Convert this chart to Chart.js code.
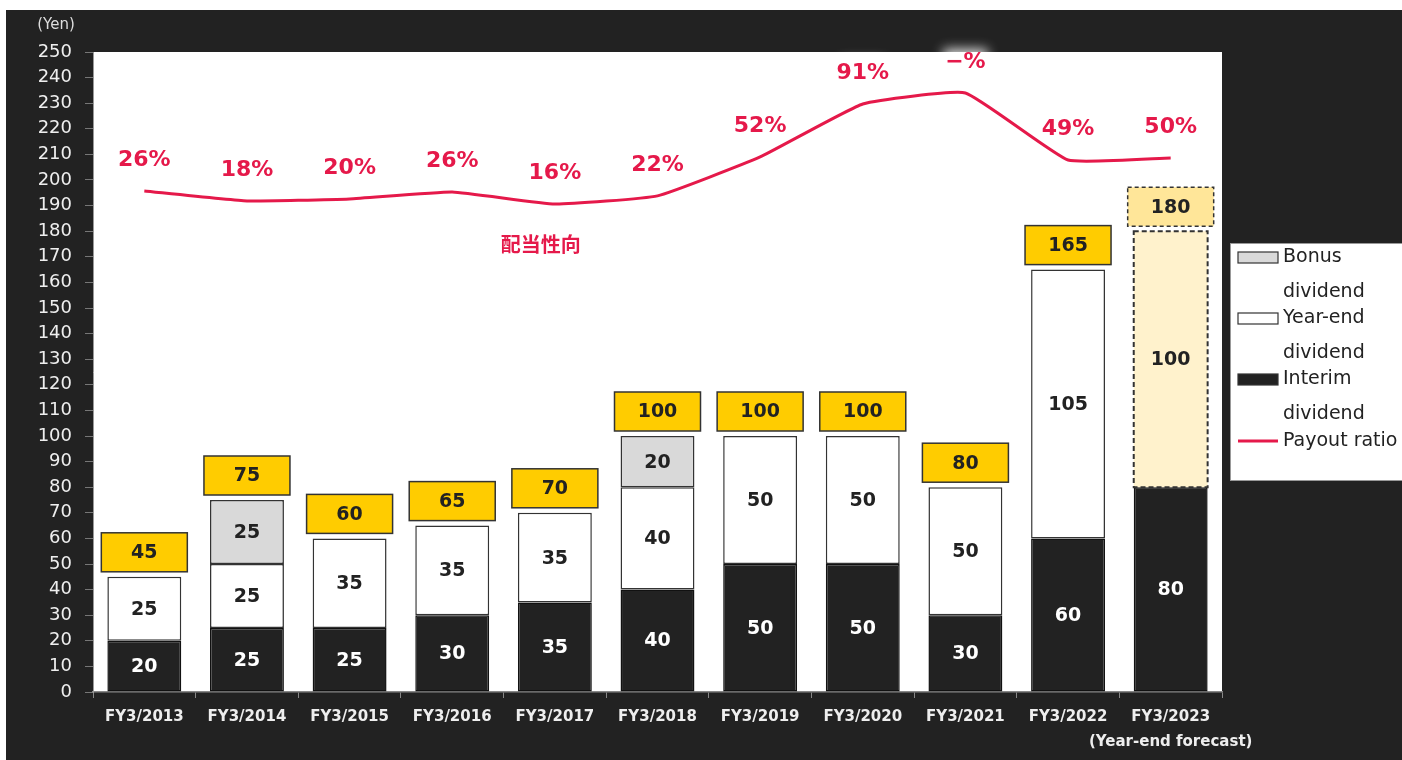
<!DOCTYPE html>
<html lang="en">
<head>
<meta charset="utf-8">
<title>Dividends per share</title>
<script src="https://cdn.jsdelivr.net/npm/chart.js@4.4.1/dist/chart.umd.min.js"></script>
<style>
  html, body { margin: 0; padding: 0; background: #fff; }
  #frame { position: absolute; left: 6px; top: 10px; width: 1396px; height: 750px; background: #222; overflow: hidden; }
  #chart { display: block; }
</style>
</head>
<body>
<div id="frame"><canvas id="chart" width="1396" height="750"></canvas></div>
<script>
// Datos del gráfico
const categories = ['FY3/2013', 'FY3/2014', 'FY3/2015', 'FY3/2016', 'FY3/2017', 'FY3/2018',
    'FY3/2019', 'FY3/2020', 'FY3/2021', 'FY3/2022', ['FY3/2023', '(Year-end forecast)']];
const interimDividend = [20, 25, 25, 30, 35, 40, 50, 50, 30, 60, 80];
const yearEndDividend = [25, 25, 35, 35, 35, 40, 50, 50, 50, 105, 100];
const bonusDividend = [null, 25, null, null, null, 20, null, null, null, null, null];
const totalDividend = [45, 75, 60, 65, 70, 100, 100, 100, 80, 165, 180];
// payout ratio line, drawn at its level on the yen scale
const payoutLevel = [195.7, 191.8, 192.6, 195.3, 190.6, 193.8, 209, 229.7, 234, 207.8, 208.6];
const payoutLabels = ['26%', '18%', '20%', '26%', '16%', '22%', '52%', '91%', '−%', '49%', '50%'];
const yTicks = { min: 0, max: 250, step: 10 };

const FORECAST = 10; // FY3/2023 es pronóstico
const RED = '#E5194A';
const FONT = '"DejaVu Sans", Verdana, sans-serif';

// Fondo blanco del área de datos + etiqueta (Yen)
const plotBackground = {
    id: 'plotBackground',
    beforeDraw(chart) {
        const { ctx, chartArea: a } = chart;
        ctx.save();
        ctx.fillStyle = '#fff';
        ctx.fillRect(a.left, a.top, a.right - a.left, a.bottom - a.top);
        ctx.fillStyle = '#ddd';
        ctx.font = '15px ' + FONT;
        ctx.textAlign = 'center';
        ctx.textBaseline = 'middle';
        ctx.fillText('(Yen)', 50, 15);
        ctx.restore();
    }
};

// Etiquetas del ratio de pago (fondo blanco detrás, texto encima)
const payoutText = {
    id: 'payoutText',
    beforeDatasetsDraw(chart) {
        const { ctx } = chart;
        const pts = chart.getDatasetMeta(3).data;
        ctx.save();
        ctx.fillStyle = 'rgba(255,255,255,0.85)';
        ctx.filter = 'blur(6px)';
        pts.forEach(p => ctx.fillRect(p.x - 22, p.y - 44, 44, 26));
        ctx.restore();
    },
    afterDatasetsDraw(chart) {
        const { ctx, scales } = chart;
        const pts = chart.getDatasetMeta(3).data;
        ctx.save();
        ctx.fillStyle = RED;
        ctx.textAlign = 'center';
        ctx.textBaseline = 'middle';
        ctx.font = 'bold 22px ' + FONT;
        pts.forEach((p, i) => ctx.fillText(payoutLabels[i], p.x, p.y - 31));
        // nombre de la serie
        ctx.font = 'bold 20px "Noto Sans CJK JP", sans-serif';
        ctx.fillText('配当性向', scales.x.getPixelForValue(4) - 14, scales.y.getPixelForValue(175));
        ctx.restore();
    }
};

// Barra pronóstico punteada, valores dentro de segmentos y cajas de totales
const barDecorations = {
    id: 'barDecorations',
    afterDatasetsDraw(chart) {
        const { ctx, scales } = chart;
        ctx.save();

        const fc = chart.getDatasetMeta(1).data[FORECAST];
        ctx.strokeStyle = '#333';
        ctx.lineWidth = 2;
        ctx.setLineDash([5, 3]);
        ctx.strokeRect(fc.x - fc.width / 2, fc.y, fc.width, fc.base - fc.y);
        ctx.setLineDash([]);

        ctx.textAlign = 'center';
        ctx.textBaseline = 'middle';
        ctx.font = 'bold 19px ' + FONT;
        [0, 1, 2].forEach(di => {
            const values = chart.data.datasets[di].data;
            chart.getDatasetMeta(di).data.forEach((bar, i) => {
                if (values[i] == null) return;
                ctx.fillStyle = di === 0 ? '#fff' : '#222';
                ctx.fillText(values[i], bar.x, (bar.y + bar.base) / 2 + 1);
            });
        });

        ctx.font = 'bold 19px ' + FONT;
        chart.getDatasetMeta(0).data.forEach((bar, i) => {
            const top = scales.y.getPixelForValue(totalDividend[i]);
            const bx = bar.x - 43, by = top - 44, bw = 86, bh = 39;
            ctx.fillStyle = i === FORECAST ? '#FFE699' : '#FFCC00';
            ctx.fillRect(bx, by, bw, bh);
            ctx.strokeStyle = '#333';
            ctx.lineWidth = 1.5;
            ctx.setLineDash(i === FORECAST ? [4, 3] : []);
            ctx.strokeRect(bx, by, bw, bh);
            ctx.setLineDash([]);
            ctx.fillStyle = '#222';
            ctx.fillText(totalDividend[i], bar.x, by + bh / 2 + 1);
        });
        ctx.restore();
    }
};

// Leyenda a la derecha (etiquetas en dos líneas)
const sideLegend = {
    id: 'sideLegend',
    afterDraw(chart) {
        const { ctx } = chart;
        ctx.save();
        ctx.fillStyle = '#fff';
        ctx.fillRect(1224, 233, 200, 237);
        ctx.strokeStyle = '#999';
        ctx.lineWidth = 1;
        ctx.strokeRect(1224.5, 233.5, 200, 237);

        const items = [
            { fill: '#D9D9D9', lines: ['Bonus', 'dividend'], y: 247 },
            { fill: '#FFFFFF', lines: ['Year-end', 'dividend'], y: 308 },
            { fill: '#222222', lines: ['Interim', 'dividend'], y: 369 },
            { line: RED, lines: ['Payout ratio'], y: 431 }
        ];
        ctx.font = '19px ' + FONT;
        ctx.textBaseline = 'middle';
        ctx.textAlign = 'left';
        items.forEach(it => {
            if (it.line) {
                ctx.strokeStyle = it.line;
                ctx.lineWidth = 3;
                ctx.beginPath();
                ctx.moveTo(1232, it.y);
                ctx.lineTo(1272, it.y);
                ctx.stroke();
            } else {
                ctx.fillStyle = it.fill;
                ctx.fillRect(1232, it.y - 5, 40, 11);
                ctx.strokeStyle = '#333';
                ctx.lineWidth = 1.2;
                ctx.strokeRect(1232, it.y - 5, 40, 11);
            }
            ctx.fillStyle = '#222';
            it.lines.forEach((t, k) => ctx.fillText(t, 1277, it.y + k * 35));
        });
        ctx.restore();
    }
};

new Chart(document.getElementById('chart'), {
    type: 'bar',
    data: {
        labels: categories,
        datasets: [
            {
                label: 'Interim dividend',
                data: interimDividend,
                backgroundColor: '#222',
                borderColor: '#111',
                borderWidth: 1.5,
                borderSkipped: false,
                order: 1
            },
            {
                label: 'Year-end dividend',
                data: yearEndDividend,
                backgroundColor: yearEndDividend.map((v, i) => i === FORECAST ? '#FFF2CC' : '#fff'),
                borderColor: '#333',
                borderWidth: yearEndDividend.map((v, i) => i === FORECAST ? 0 : 1.5),
                borderSkipped: false,
                order: 1
            },
            {
                label: 'Bonus dividend',
                data: bonusDividend,
                backgroundColor: '#D9D9D9',
                borderColor: '#333',
                borderWidth: 1.5,
                borderSkipped: false,
                order: 1
            },
            {
                type: 'line',
                label: 'Payout ratio',
                data: payoutLevel,
                yAxisID: 'y1',
                borderColor: RED,
                borderWidth: 3,
                pointRadius: 0,
                tension: 0.12,
                fill: false,
                order: 0
            }
        ]
    },
    options: {
        responsive: false,
        animation: false,
        layout: { padding: { top: 42, right: 180, left: 0, bottom: 0 } },
        datasets: { bar: { barPercentage: 0.72, categoryPercentage: 1 } },
        plugins: {
            legend: { display: false },
            tooltip: { enabled: false }
        },
        scales: {
            x: {
                stacked: true,
                afterFit(scale) { scale.height = 68; },
                grid: { drawOnChartArea: false, tickLength: 6, color: '#888', offset: true },
                border: { color: '#888', width: 1.5 },
                ticks: {
                    color: '#eee',
                    padding: 6,
                    maxRotation: 0,
                    autoSkip: false,
                    font: { family: FONT, size: 15, weight: 'bold', lineHeight: 1.7 }
                }
            },
            y: {
                stacked: true,
                min: yTicks.min,
                max: yTicks.max,
                afterFit(scale) { scale.width = 87; },
                grid: { drawOnChartArea: false, tickLength: 8, color: '#777' },
                border: { color: '#999', width: 1 },
                ticks: {
                    stepSize: yTicks.step,
                    color: '#eee',
                    padding: 13,
                    autoSkip: false,
                    font: { family: FONT, size: 18 }
                }
            },
            y1: {
                display: false,
                min: yTicks.min,
                max: yTicks.max
            }
        }
    },
    plugins: [plotBackground, payoutText, barDecorations, sideLegend]
});
</script>
</body>
</html>
